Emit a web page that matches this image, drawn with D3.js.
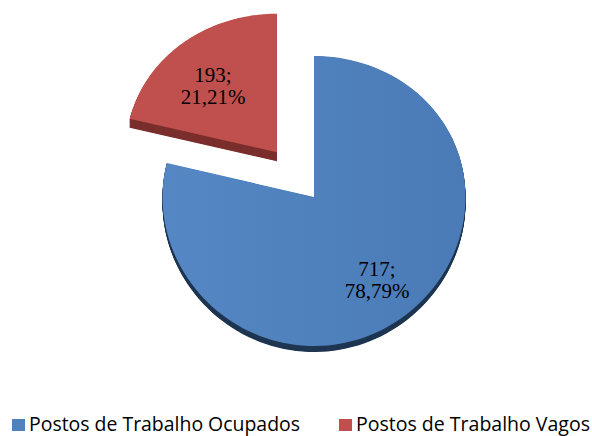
<!DOCTYPE html>
<html>
<head>
<meta charset="utf-8">
<script src="https://cdn.jsdelivr.net/npm/d3@7"></script>
<style>
  html, body { margin: 0; padding: 0; background: #fff; }
  svg { display: block; }
</style>
</head>
<body>
<svg id="chart" width="592" height="436"></svg>
<script>
const categories = ["Postos de Trabalho Ocupados", "Postos de Trabalho Vagos"];
const values = [717, 193];
const percentLabels = ["78,79%", "21,21%"];
const colors = ["#4f81bd", "#c0504d"];
const sideColors = ["#1f3652", "#7b2f2d"];
const explode = [0, 60];
const depth = [6, 9];

const width = 592, height = 436;
const cx = 314, cy = 197, R = 151.5, ry = 145, persp = 0.0276;

const svg = d3.select("#chart");

// simple tilt with a touch of perspective: front half a bit taller than back
const project = (x, y) => {
  const v = y / R;
  return [cx + x, cy + ry * v * (1 + persp * v)];
};

const pie = d3.pie().sort(null).startAngle(0).endAngle(2 * Math.PI);
const arcs = pie(values);

const line = d3.line();

const slicePoints = (a, off) => {
  const mid = (a.startAngle + a.endAngle) / 2;
  const ox = Math.sin(mid) * off, oy = -Math.cos(mid) * off;
  const pts = [project(ox, oy)];
  const n = 120;
  for (let i = 0; i <= n; i++) {
    const t = a.startAngle + (a.endAngle - a.startAngle) * i / n;
    pts.push(project(ox + Math.sin(t) * R, oy - Math.cos(t) * R));
  }
  return pts;
};

const defs = svg.append("defs");
const grad = defs.append("linearGradient").attr("id", "blueFace")
  .attr("x1", "0%").attr("y1", "0%").attr("x2", "100%").attr("y2", "0%");
grad.append("stop").attr("offset", "0%").attr("stop-color", "#5487c3");
grad.append("stop").attr("offset", "100%").attr("stop-color", "#4a7bb7");

const slices = svg.selectAll("g.slice")
  .data(arcs)
  .join("g")
  .attr("class", "slice");

slices.each(function (a, i) {
  const g = d3.select(this);
  const pts = slicePoints(a, explode[i]);
  const d = line(pts) + "Z";
  const steps = d3.range(depth[i], 0, -0.5);
  g.selectAll("path.side")
    .data(steps)
    .join("path")
    .attr("class", "side")
    .attr("d", d)
    .attr("transform", s => `translate(0,${s})`)
    .attr("fill", sideColors[i]);
  g.append("path")
    .attr("d", d)
    .attr("fill", i === 0 ? "url(#blueFace)" : colors[i]);
});

// data labels
const labelPos = [[377, 276], [213, 82]];
const labels = svg.selectAll("text.lbl")
  .data(arcs)
  .join("text")
  .attr("class", "lbl")
  .attr("font-family", "'Liberation Serif', 'Times New Roman', serif")
  .attr("font-size", 21)
  .attr("fill", "#000")
  .attr("text-anchor", "middle");
labels.append("tspan")
  .attr("x", (d, i) => labelPos[i][0])
  .attr("y", (d, i) => labelPos[i][1])
  .text((d, i) => values[i] + ";");
labels.append("tspan")
  .attr("x", (d, i) => labelPos[i][0])
  .attr("y", (d, i) => labelPos[i][1] + 22)
  .text((d, i) => percentLabels[i]);

// legend
const legendX = [12, 339], legendW = [271, 234];
const legend = svg.selectAll("g.legend")
  .data(categories)
  .join("g")
  .attr("class", "legend")
  .attr("transform", (d, i) => `translate(${legendX[i]},419)`);
legend.append("rect")
  .attr("width", 13).attr("height", 12)
  .attr("fill", (d, i) => colors[i]);
legend.append("text")
  .attr("x", 17).attr("y", 12)
  .attr("font-family", "'Open Sans', 'Noto Sans', sans-serif")
  .attr("font-size", 19.5)
  .attr("fill", "#000")
  .attr("textLength", (d, i) => legendW[i])
  .attr("lengthAdjust", "spacingAndGlyphs")
  .text(d => d);
</script>
</body>
</html>
